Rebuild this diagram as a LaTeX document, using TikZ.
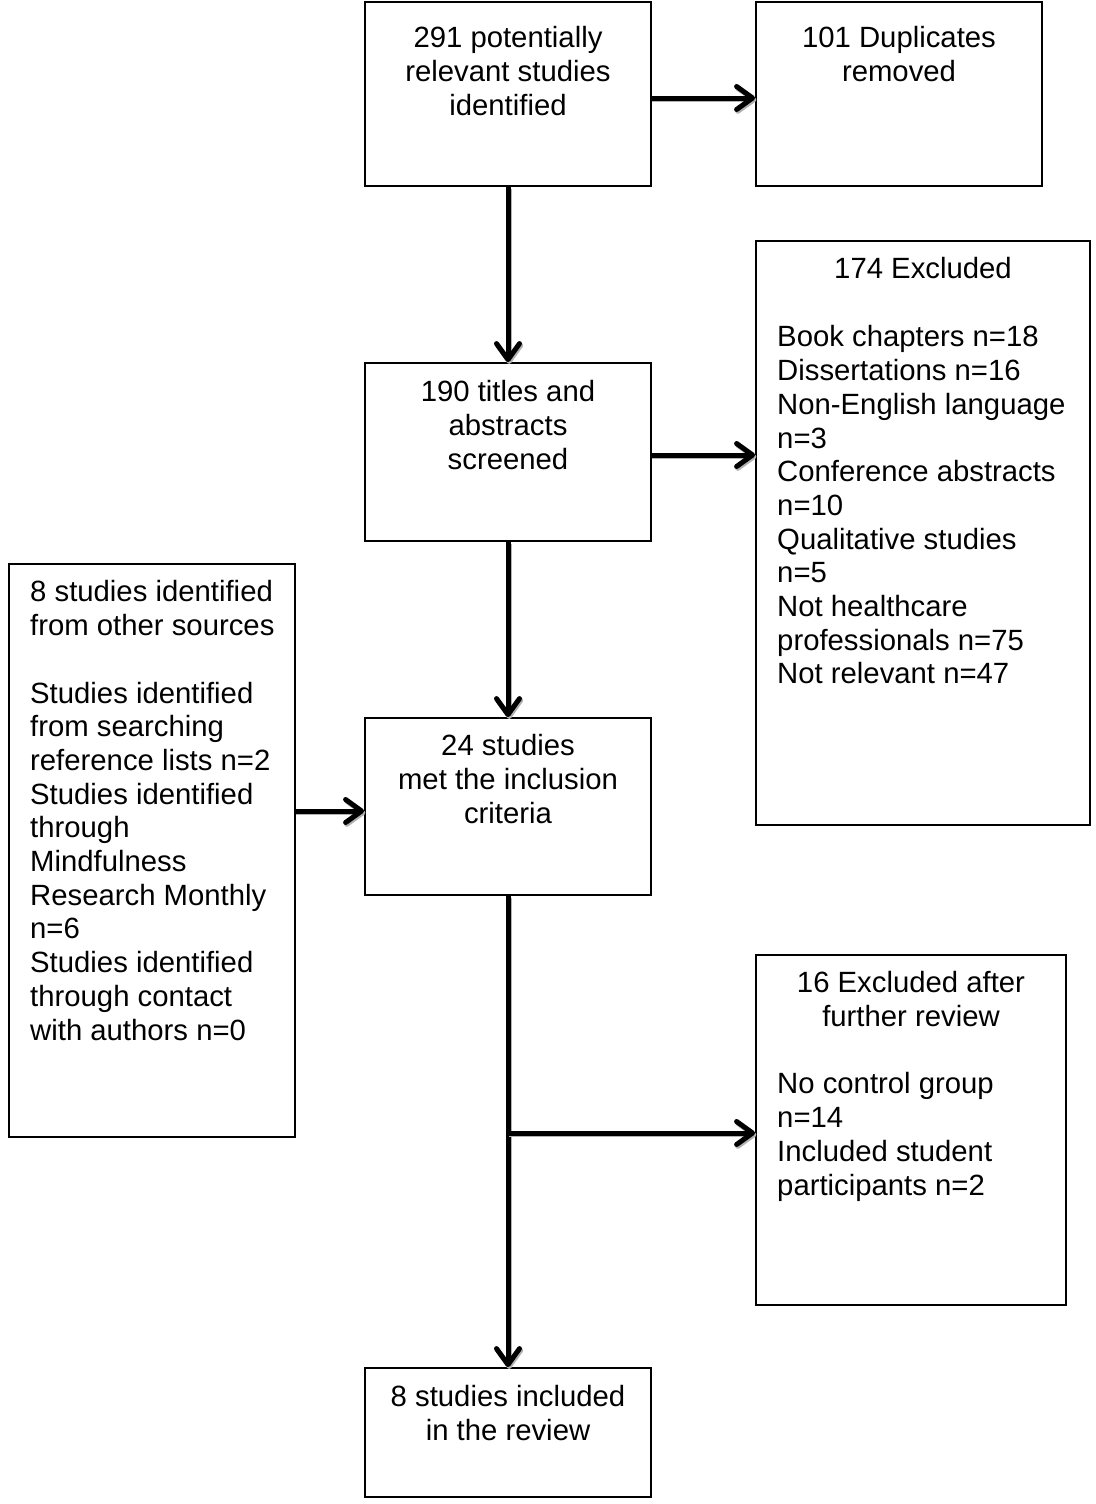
\documentclass[tikz,border=0pt]{standalone}
\usepackage{fontspec}
\setmainfont{Liberation Sans}
\usetikzlibrary{arrows.meta}
\tikzset{
  box/.style={draw=black, line width=1.8pt, inner sep=0pt, fill=white},
  txt/.style={inner sep=0pt, font=\fontsize{29.3}{33.7}\selectfont},
  ctxt/.style={txt, align=center, anchor=north},
  ltxt/.style={txt, align=left, anchor=north west},
  arr/.style={line width=5pt, -{Straight Barb[length=16pt,width=23pt,line cap=round,line join=round]},
    preaction={draw=black!30, line width=5pt, transform canvas={shift={(1.2pt,-1.8pt)}}, -{Straight Barb[length=16pt,width=23pt,line cap=round,line join=round]}}},
}
\begin{document}
\begin{tikzpicture}[x=1pt,y=-1pt]
\useasboundingbox (0,0) rectangle (1095,1504);
% boxes
\node[box, minimum width=286pt, minimum height=184pt] (b1) at (508,94) {};
\node[box, minimum width=286pt, minimum height=184pt] (b2) at (899,94) {};
\node[box, minimum width=334pt, minimum height=584pt] (b3) at (923,533) {};
\node[box, minimum width=286pt, minimum height=178pt] (b4) at (508,452) {};
\node[box, minimum width=286pt, minimum height=573pt] (b5) at (152,850.5) {};
\node[box, minimum width=286pt, minimum height=177pt] (b6) at (508,806.5) {};
\node[box, minimum width=310pt, minimum height=350pt] (b7) at (911,1130) {};
\node[box, minimum width=286pt, minimum height=129pt] (b8) at (508,1432.5) {};
% texts
\node[ctxt] (t1) at (508,26.5) {291 potentially\\relevant studies\\identified};
\node[ctxt] (t2) at (899,26.5) {101 Duplicates\\removed};
\node[ctxt] (t3h) at (923,257.5) {174 Excluded};
\node[ltxt] (t3) at (777,325.5) {Book chapters n=18\\Dissertations n=16\\Non-English language\\n=3\\Conference abstracts\\n=10\\Qualitative studies\\n=5\\Not healthcare\\professionals n=75\\Not relevant n=47};
\node[ctxt] (t4) at (508,380.5) {190 titles and\\abstracts\\screened};
\node[ltxt] (t5) at (30,580.5) {8 studies identified\\from other sources\\[33.7pt]Studies identified\\from searching\\reference lists n=2\\Studies identified\\through\\Mindfulness\\Research Monthly\\n=6\\Studies identified\\through contact\\with authors n=0};
\node[ctxt] (t6) at (508,734.5) {24 studies\\met the inclusion\\criteria};
\node[ctxt] (t7h) at (911,971.5) {16 Excluded after\\further review};
\node[ltxt] (t7) at (777,1072.5) {No control group\\n=14\\Included student\\participants n=2};
\node[ctxt] (t8) at (508,1385.5) {8 studies included\\in the review};
% connectors
\coordinate (a1) at (651,98);
\draw[arr] (a1) -- (a1 -| b2.west);
\draw[arr] (b1.south) -- (b4.north);
\coordinate (a2) at (651,455);
\draw[arr] (a2) -- (a2 -| b3.west);
\draw[arr] (b4.south) -- (b6.north);
\coordinate (a3) at (295,811);
\draw[arr] (a3) -- (a3 -| b6.west);
\draw[arr] (b6.south) -- (b8.north);
\coordinate (br) at (508,1133);
\draw[arr] (br) -- (br -| b7.west);
\end{tikzpicture}
\end{document}
